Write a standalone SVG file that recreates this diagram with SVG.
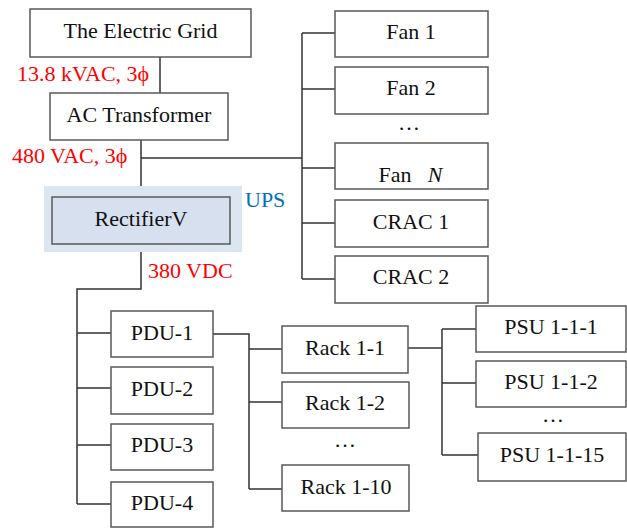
<svg xmlns="http://www.w3.org/2000/svg" width="627" height="528" viewBox="0 0 627 528">
<style>
.box{fill:#fff;stroke:#595959;stroke-width:1.5}
.t{font-family:"Liberation Serif","Times New Roman",serif;font-size:22px;fill:#111;text-anchor:middle}
.red{font-family:"Liberation Serif","Times New Roman",serif;font-size:22px;fill:#ff0000}
.w{stroke:#333;stroke-width:1.5;fill:none}
</style>
<rect width="627" height="528" fill="#fff"/>
<g id="connectors" class="w">
<path d="M160 57V93"/>
<path d="M141 140V197"/>
<path d="M141 158H302"/>
<path d="M302 33V279"/>
<path d="M302 33H335M302 89H335M302 168H335M302 223H335M302 279H335"/>
<path d="M141 244V289H77V504"/>
<path d="M77 333H111M77 388H111M77 445H111M77 504H111"/>
<path d="M213 334H249V489"/>
<path d="M249 349H282M249 402H282M249 489H282"/>
<path d="M408 348H442"/>
<path d="M442 329V455"/>
<path d="M442 329H476M442 383H476M442 455H478"/>
</g>
<g id="grid"><rect class="box" x="30" y="9" width="221" height="48"/><text class="t" x="140.5" y="38">The Electric Grid</text></g>
<g id="transformer"><rect class="box" x="50" y="93" width="178" height="47"/><text class="t" x="139" y="122">AC Transformer</text></g>
<g id="ups"><rect x="44" y="186" width="198" height="66" fill="#dce6f1"/><text x="245" y="207" font-family="Liberation Serif,serif" font-size="22" fill="#0070c0">UPS</text></g>
<g id="rectifier"><rect x="52" y="197" width="178" height="47" fill="#d6e0ee" stroke="#595959" stroke-width="1.5"/><text class="t" x="141" y="226">RectifierV</text></g>
<g id="labels">
<text class="red" x="17" y="81">13.8 kVAC, 3ϕ</text>
<text class="red" x="12" y="163">480 VAC, 3ϕ</text>
<text class="red" x="148" y="278">380 VDC</text>
</g>
<g id="fan1"><rect class="box" x="335" y="11" width="153" height="46"/><text class="t" x="411" y="39">Fan 1</text></g>
<g id="fan2"><rect class="box" x="335" y="67" width="153" height="47"/><text class="t" x="411" y="95">Fan 2</text></g>
<text class="t" x="409" y="130">…</text>
<g id="fanN"><rect class="box" x="335" y="143" width="153" height="46"/><text class="t" x="411" y="182"><tspan x="395">Fan</tspan><tspan x="435" font-style="italic">N</tspan></text></g>
<g id="crac1"><rect class="box" x="335" y="200" width="153" height="47"/><text class="t" x="411" y="229">CRAC 1</text></g>
<g id="crac2"><rect class="box" x="335" y="256" width="153" height="47"/><text class="t" x="411" y="284">CRAC 2</text></g>
<g id="pdu1"><rect class="box" x="111" y="311" width="102" height="46"/><text class="t" x="162" y="340">PDU-1</text></g>
<g id="pdu2"><rect class="box" x="111" y="367" width="102" height="47"/><text class="t" x="162" y="396">PDU-2</text></g>
<g id="pdu3"><rect class="box" x="111" y="424" width="102" height="46"/><text class="t" x="162" y="452">PDU-3</text></g>
<g id="pdu4"><rect class="box" x="111" y="482" width="102" height="45"/><text class="t" x="162" y="510">PDU-4</text></g>
<g id="rack11"><rect class="box" x="282" y="326" width="126" height="47"/><text class="t" x="345" y="355">Rack 1-1</text></g>
<g id="rack12"><rect class="box" x="282" y="382" width="127" height="46"/><text class="t" x="345" y="410">Rack 1-2</text></g>
<text class="t" x="345" y="447">…</text>
<g id="rack110"><rect class="box" x="282" y="465" width="127" height="46"/><text class="t" x="346" y="494">Rack 1-10</text></g>
<g id="psu111"><rect class="box" x="476" y="306" width="150" height="46"/><text class="t" x="551" y="334">PSU 1-1-1</text></g>
<g id="psu112"><rect class="box" x="476" y="361" width="150" height="46"/><text class="t" x="551" y="389">PSU 1-1-2</text></g>
<text class="t" x="553" y="422">…</text>
<g id="psu1115"><rect class="box" x="478" y="433" width="148" height="48"/><text class="t" x="552" y="462">PSU 1-1-15</text></g>
</svg>
